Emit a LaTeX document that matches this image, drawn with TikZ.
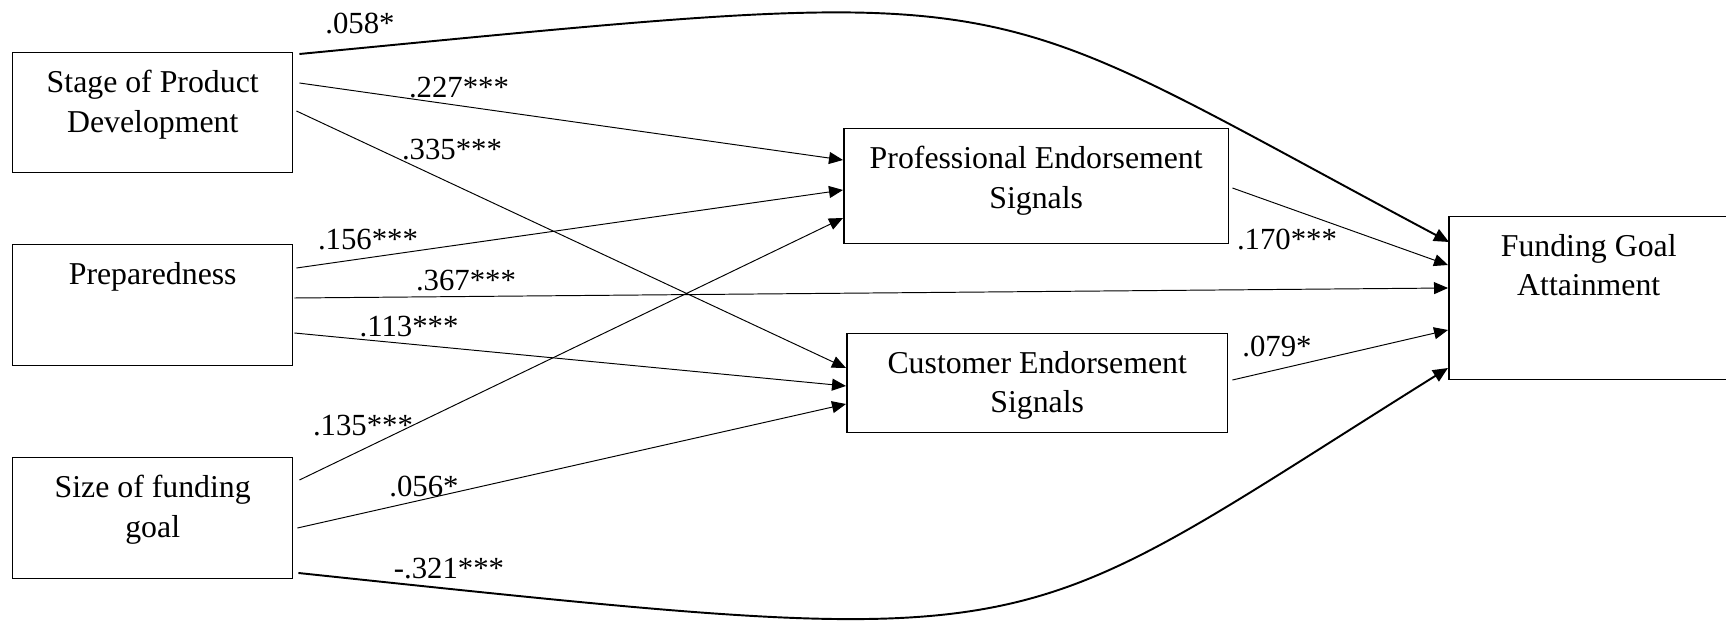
\documentclass[tikz,border=0pt]{standalone}
\usepackage{fontspec}
\setmainfont{Liberation Serif}
\usetikzlibrary{arrows.meta,calc}

\tikzset{
  varbox/.style={draw, line width=0.85pt, minimum width=5.6cm, minimum height=2.42cm,
                 anchor=north west, inner sep=0pt},
  boxtext/.style={anchor=north, inner sep=0pt, yshift=-0.36cm, align=center,
                  font=\fontsize{18.1}{22.4}\selectfont},
  link/.style={line width=0.55pt, -{Triangle[length=0.28cm,width=0.24cm]}},
  bentlink/.style={line width=1.1pt, -{Triangle[length=0.3cm,width=0.26cm]}},
  coef/.style={inner sep=0pt}
}

\begin{document}
\begin{tikzpicture}[x=0.02cm, y=-0.02cm, font=\fontsize{17.5}{22.2}\selectfont]
  \useasboundingbox (0,0) rectangle (1726,624);

  % variables
  \node[varbox, minimum height=2.4cm, label={[boxtext]north:{Stage of Product\\Development}}] (stage) at (12,52) {};
  \node[varbox, label={[boxtext]north:Preparedness}] (prep) at (12,244) {};
  \node[varbox, label={[boxtext]north:{Size of funding\\goal}}] (size) at (12,457) {};
  \node[varbox, minimum width=7.7cm, minimum height=2.3cm,
        label={[boxtext]north:{Professional Endorsement\\Signals}}] (prof) at (843,128) {};
  \node[varbox, minimum width=7.62cm, minimum height=1.98cm,
        label={[boxtext]north:{Customer Endorsement\\Signals}}] (cust) at (846,333) {};
  \node[varbox, minimum height=3.26cm, label={[boxtext]north:{Funding Goal\\Attainment}}] (fund) at (1448,216) {};

  % paths
  \draw[link] ($(stage.north east)+(6,31)$) -- ($(prof.north west)+(0,32)$);
  \draw[link] ($(stage.north east)+(3,59)$) -- ($(cust.north west)+(0,35)$);
  \draw[link] ($(prep.north east)+(3,24)$) -- ($(prof.north west)+(0,62)$);
  \draw[link] ($(prep.north east)+(1,54)$) -- ($(fund.north west)+(0,72)$);
  \draw[link] ($(prep.north east)+(1,89)$) -- ($(cust.north west)+(0,53)$);
  \draw[link] ($(size.north east)+(6,23)$) -- ($(prof.north west)+(0,90)$);
  \draw[link] ($(size.north east)+(4,71)$) -- ($(cust.north west)+(0,71)$);
  \draw[link] ($(prof.north east)+(3,60)$) -- ($(fund.north west)+(0,49)$);
  \draw[link] ($(cust.north east)+(4,47)$) -- ($(fund.north west)+(0,114)$);
  \draw[bentlink] ($(stage.north east)+(6,2)$) .. controls +(748,-72) and +(-491,-261) .. ($(fund.north west)+(1,26)$);
  \draw[bentlink] ($(size.north east)+(5,116)$) .. controls +(767,81) and +(-453,283) .. ($(fund.north west)+(0,152)$);

  % coefficients
  \node[coef] (c058) at (360,24) {.058*};
  \node[coef] (c227) at (459,88) {.227***};
  \node[coef] (c335) at (452,150) {.335***};
  \node[coef] (c156) at (368,240) {.156***};
  \node[coef] (c367) at (466,281) {.367***};
  \node[coef] (c113) at (409,327) {.113***};
  \node[coef] (c135) at (363,426) {.135***};
  \node[coef] (c056) at (424,486) {.056*};
  \node[coef] (c321) at (449,569) {-.321***};
  \node[coef] (c170) at (1287,239) {.170***};
  \node[coef] (c079) at (1277,346) {.079*};
\end{tikzpicture}
\end{document}
